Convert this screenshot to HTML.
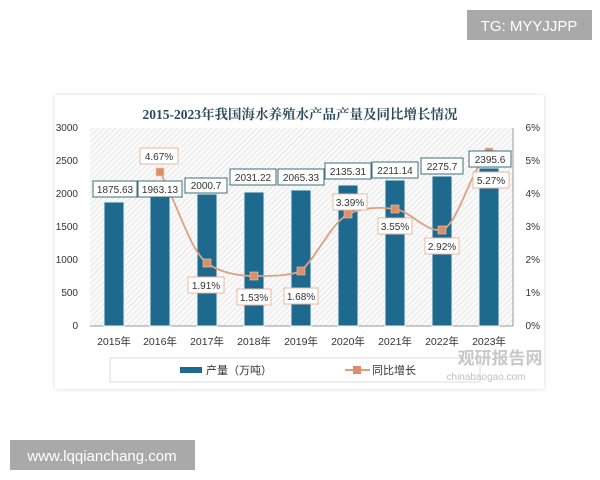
<!DOCTYPE html>
<html><head><meta charset="utf-8"><style>
html,body{margin:0;padding:0;background:#fff;width:600px;height:480px;overflow:hidden}
svg{position:absolute;left:0;top:0}
</style></head><body>
<svg width="600" height="480" viewBox="0 0 600 480" font-family="Liberation Sans, 'Noto Sans CJK SC', sans-serif">
<defs>
<pattern id="h" width="4" height="4" patternUnits="userSpaceOnUse" patternTransform="rotate(45)">
<rect width="4" height="4" fill="#fafafa"/><line x1="0" y1="0" x2="0" y2="4" stroke="#dcdcdc" stroke-width="1.2"/>
</pattern>
<filter id="s" x="-5%" y="-5%" width="110%" height="110%"><feDropShadow dx="0" dy="0" stdDeviation="2" flood-color="#000" flood-opacity="0.15"/></filter>
</defs>
<rect x="467" y="10" width="125" height="30" fill="#a9a9a9"/>
<text x="529" y="31" fill="#fff" font-size="15" text-anchor="middle">TG: MYYJJPP</text>
<rect x="10" y="440" width="185" height="30" fill="#a9a9a9"/>
<text x="102" y="461" fill="#fff" font-size="15" text-anchor="middle">www.lqqianchang.com</text>

<rect x="55" y="95" width="489" height="294" fill="#fff" filter="url(#s)"/>
<text x="300" y="119" font-size="13.5" font-weight="bold" fill="#2a4a5a" text-anchor="middle" font-family="'Liberation Serif','Noto Serif CJK SC',serif">2015-2023年我国海水养殖水产品产量及同比增长情况</text>
<rect x="90" y="128" width="423" height="198" fill="url(#h)"/>
<line x1="90" y1="326" x2="513" y2="326" stroke="#999"/>
<line x1="513" y1="128" x2="513" y2="326" stroke="#999"/>
<g font-size="10" fill="#333" text-anchor="end">
<text x="78" y="131">3000</text><text x="78" y="164">2500</text><text x="78" y="197">2000</text><text x="78" y="230">1500</text><text x="78" y="263">1000</text><text x="78" y="296">500</text><text x="78" y="329">0</text>
</g>
<g font-size="10" fill="#333" text-anchor="end">
<text x="540" y="131">6%</text><text x="540" y="164">5%</text><text x="540" y="197">4%</text><text x="540" y="230">3%</text><text x="540" y="263">2%</text><text x="540" y="296">1%</text><text x="540" y="329">0%</text>
</g>
<g fill="#1e6a8e" stroke="#e8f2f6" stroke-width="1">
<rect x="104" y="202" width="20" height="124"/>
<rect x="150" y="196" width="20" height="130"/>
<rect x="197" y="194" width="20" height="132"/>
<rect x="244" y="192" width="20" height="134"/>
<rect x="291" y="190" width="20" height="136"/>
<rect x="338" y="185" width="20" height="141"/>
<rect x="385" y="180" width="20" height="146"/>
<rect x="432" y="176" width="20" height="150"/>
<rect x="479" y="168" width="20" height="158"/>
</g>
<g font-size="10.5" fill="#333" text-anchor="middle">
<text x="114" y="345">2015年</text><text x="160" y="345">2016年</text><text x="207" y="345">2017年</text><text x="254" y="345">2018年</text><text x="301" y="345">2019年</text><text x="348" y="345">2020年</text><text x="395" y="345">2021年</text><text x="442" y="345">2022年</text><text x="489" y="345">2023年</text>
</g>
<path d="M160,172 C180,210 190,250 207,263 C220,273 240,276 254,276 C272,276 290,276 301,271 C318,255 330,225 348,214 C365,207 380,207 395,209 C412,212 425,232 442,230 C458,225 470,170 489,152" fill="none" stroke="#e0a080" stroke-width="1.8"/>
<g fill="#d9906a" stroke="#f3c9b0" stroke-width="0.6">
<rect x="156" y="168" width="8" height="8"/><rect x="203" y="259" width="8" height="8"/><rect x="250" y="272" width="8" height="8"/><rect x="297" y="267" width="8" height="8"/><rect x="344" y="210" width="8" height="8"/><rect x="391" y="205" width="8" height="8"/><rect x="438" y="226" width="8" height="8"/><rect x="485" y="148" width="8" height="8"/>
</g>
<g font-size="10" fill="#333" text-anchor="middle">
<g stroke="#3d6f7a" fill="#fff"><rect x="93" y="181" width="44" height="16"/><rect x="138" y="181" width="44" height="16"/><rect x="185" y="178" width="42" height="15"/><rect x="230" y="169" width="46" height="16"/><rect x="278" y="169" width="46" height="16"/><rect x="325" y="163" width="46" height="16"/><rect x="372" y="162" width="46" height="16"/><rect x="421" y="158" width="42" height="16"/><rect x="469" y="151" width="42" height="16"/></g>
<text x="115" y="193">1875.63</text><text x="160" y="193">1963.13</text><text x="206" y="189">2000.7</text><text x="253" y="181">2031.22</text><text x="301" y="181">2065.33</text><text x="348" y="175">2135.31</text><text x="395" y="174">2211.14</text><text x="442" y="170">2275.7</text><text x="490" y="163">2395.6</text>
<g stroke="#e8b8a0" fill="#fff"><rect x="140" y="148" width="38" height="16"/><rect x="333" y="194" width="34" height="16"/><rect x="378" y="218" width="34" height="16"/><rect x="473" y="172" width="36" height="16"/><rect x="425" y="238" width="34" height="16"/><rect x="188" y="277" width="36" height="16"/><rect x="237" y="289" width="34" height="16"/><rect x="284" y="288" width="34" height="16"/></g>
<text x="159" y="160">4.67%</text><text x="350" y="206">3.39%</text><text x="395" y="230">3.55%</text><text x="491" y="184">5.27%</text><text x="442" y="250">2.92%</text><text x="206" y="289">1.91%</text><text x="254" y="301">1.53%</text><text x="301" y="300">1.68%</text>
</g>
<rect x="110" y="358" width="370" height="24" fill="#fff" stroke="#ddd"/>
<rect x="180" y="367" width="22" height="6" fill="#1e6a8e"/>
<text x="206" y="374" font-size="11" fill="#333">产量（万吨）</text>
<line x1="345" y1="370" x2="370" y2="370" stroke="#e0a080" stroke-width="2"/>
<rect x="353" y="366" width="8" height="8" fill="#d9906a"/>
<text x="372" y="374" font-size="11" fill="#333">同比增长</text>
<text x="500" y="364" font-size="17" font-weight="bold" fill="#c8c8c8" text-anchor="middle">观研报告网</text>
<text x="486" y="380" font-size="10" fill="#c0c0c0" text-anchor="middle">chinabaogao.com</text>
</svg>
</body></html>
